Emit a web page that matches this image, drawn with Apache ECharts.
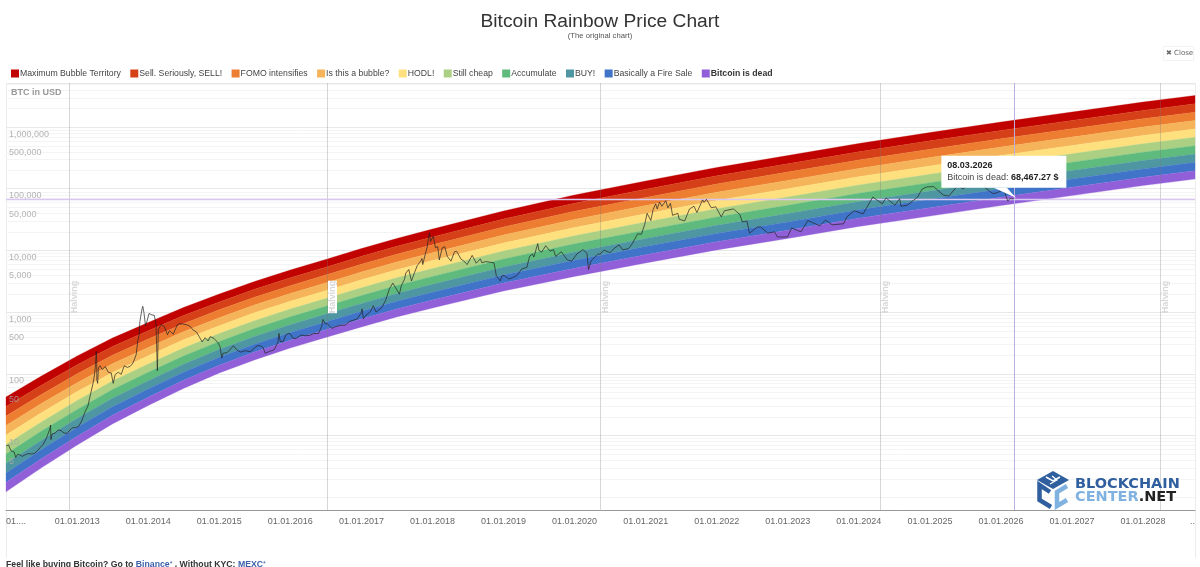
<!DOCTYPE html>
<html>
<head>
<meta charset="utf-8">
<title>Bitcoin Rainbow Price Chart</title>
<script src="https://cdn.jsdelivr.net/npm/echarts@6/dist/echarts.min.js"></script>
<style>
html, body { margin: 0; padding: 0; background: #fff; overflow: hidden; }
#chart { width: 1200px; height: 567px; }
</style>
</head>
<body>
<div id="chart"></div>
<script>
// band names and colours, top of the rainbow first
var bandNames = ['Maximum Bubble Territory', 'Sell. Seriously, SELL!', 'FOMO intensifies', 'Is this a bubble?', 'HODL!', 'Still cheap', 'Accumulate', 'BUY!', 'Basically a Fire Sale', 'Bitcoin is dead'];
var bandColors = ['#c00200', '#d64018', '#ed7d31', '#f6b45a', '#fee17e', '#abd084', '#5fbb7d', '#4f96a3', '#3f74c8', '#9160d8'];

// dates the band edges were read at
var edgeDates = ['2012-01-01', '2012-07-01', '2013-01-01', '2013-07-01', '2014-01-01', '2014-07-01', '2015-01-01', '2015-07-01', '2016-01-01', '2016-07-01', '2017-01-01', '2017-07-01', '2018-01-01', '2019-01-01', '2020-01-01', '2021-01-01', '2022-01-01', '2023-01-01', '2024-01-01', '2025-01-01', '2026-01-01', '2027-01-01', '2028-01-01', '2028-09-24'];
// one row per date, 11 edges in USD from the top of the red band to the bottom of the purple one
var bandEdges = [
    [42.1, 29.5, 20.7, 14.5, 10.2, 7.16, 5.02, 3.53, 2.47, 1.74, 1.22],
    [92.1, 65.4, 46.4, 32.9, 23.4, 16.6, 11.8, 8.35, 5.93, 4.21, 2.99],
    [195, 140, 100, 71.8, 51.5, 36.9, 26.5, 19.0, 13.6, 9.76, 7.0],
    [380, 276, 200, 145, 105, 76.4, 55.4, 40.2, 29.2, 21.2, 15.4],
    [678, 497, 365, 268, 196, 144, 106, 77.5, 56.9, 41.7, 30.6],
    [1188, 878, 649, 480, 355, 262, 194, 143, 106, 78.3, 57.9],
    [1963, 1462, 1088, 810, 603, 449, 335, 249, 186, 138, 103],
    [3133, 2338, 1745, 1302, 972, 725, 541, 404, 301, 225, 168],
    [4808, 3593, 2685, 2007, 1500, 1121, 838, 626, 468, 350, 261],
    [7129, 5328, 3982, 2976, 2224, 1662, 1242, 928, 694, 519, 388],
    [10740, 8015, 5981, 4463, 3331, 2486, 1855, 1384, 1033, 771, 575],
    [15600, 11640, 8687, 6483, 4838, 3610, 2694, 2011, 1500, 1120, 836],
    [22230, 16550, 12320, 9176, 6832, 5087, 3788, 2821, 2100, 1564, 1165],
    [43550, 32310, 23970, 17780, 13190, 9785, 7259, 5385, 3995, 2964, 2199],
    [79070, 58350, 43060, 31780, 23450, 17310, 12770, 9426, 6956, 5133, 3788],
    [133400, 98230, 72330, 53260, 39220, 28880, 21270, 15660, 11530, 8491, 6252],
    [220800, 162400, 119400, 87790, 64550, 47460, 34900, 25660, 18870, 13870, 10200],
    [345100, 253200, 185800, 136300, 100000, 73360, 53820, 39490, 28970, 21250, 15590],
    [540800, 396800, 291100, 213600, 156700, 115000, 84370, 61900, 45410, 33320, 24450],
    [814700, 596400, 436600, 319600, 234000, 171300, 125400, 91800, 67200, 49200, 36000],
    [1205000, 882100, 645800, 472700, 346100, 253300, 185500, 135800, 99400, 72770, 53270],
    [1750000, 1281000, 937800, 686500, 502600, 367900, 269300, 197200, 144300, 105700, 77350],
    [2541000, 1860000, 1362000, 997000, 729800, 534300, 391100, 286300, 209600, 153400, 112300],
    [3243000, 2374000, 1738000, 1272000, 931400, 681900, 499200, 365400, 267500, 195800, 143400]
];

// BTC price in USD
var btcPrice = [
    ['2012-01-03', 6.8], ['2012-01-06', 7.0], ['2012-01-10', 6.5], ['2012-01-15', 7.0], ['2012-01-20', 6.3], ['2012-01-28', 5.6], ['2012-02-05', 6.0], ['2012-02-12', 5.4], ['2012-02-20', 4.4], ['2012-02-28', 4.9], ['2012-03-10', 4.9], ['2012-03-25', 4.6], ['2012-04-10', 4.9], ['2012-04-25', 5.1], ['2012-05-10', 5.0], ['2012-05-25', 5.1], ['2012-06-10', 5.6], ['2012-06-25', 6.4], ['2012-07-10', 7.2], ['2012-07-25', 8.8], ['2012-08-05', 10.8], ['2012-08-15', 13.3], ['2012-08-17', 14.8], ['2012-08-19', 8.6], ['2012-08-25', 10.6], ['2012-09-10', 11.0], ['2012-09-25', 12.3], ['2012-10-10', 12.0], ['2012-10-25', 11.0], ['2012-11-10', 10.8], ['2012-11-25', 12.3], ['2012-12-10', 13.4], ['2012-12-25', 13.4],
    ['2013-01-10', 14.2], ['2013-01-25', 17.5], ['2013-02-10', 24], ['2013-02-25', 30], ['2013-03-10', 46], ['2013-03-25', 74], ['2013-04-01', 104], ['2013-04-05', 142], ['2013-04-09', 230], ['2013-04-11', 160], ['2013-04-12', 80], ['2013-04-16', 70], ['2013-04-20', 125], ['2013-04-28', 135], ['2013-05-10', 117], ['2013-05-25', 131], ['2013-06-10', 106], ['2013-06-25', 103], ['2013-07-05', 70], ['2013-07-15', 97], ['2013-07-31', 106], ['2013-08-15', 98], ['2013-08-31', 135], ['2013-09-15', 127], ['2013-09-30', 132], ['2013-10-15', 150], ['2013-10-31', 204], ['2013-11-08', 340], ['2013-11-15', 420], ['2013-11-19', 700], ['2013-11-21', 720], ['2013-11-30', 1125], ['2013-12-04', 1240], ['2013-12-10', 980], ['2013-12-18', 600], ['2013-12-25', 700],
    ['2014-01-05', 950], ['2014-01-20', 900], ['2014-02-01', 890], ['2014-02-10', 650], ['2014-02-17', 112], ['2014-02-22', 530], ['2014-03-10', 630], ['2014-03-25', 580], ['2014-04-10', 430], ['2014-04-20', 500], ['2014-05-10', 440], ['2014-05-30', 620], ['2014-06-10', 650], ['2014-06-30', 640], ['2014-07-20', 620], ['2014-08-05', 585], ['2014-08-20', 510], ['2014-09-05', 480], ['2014-09-20', 400], ['2014-10-05', 330], ['2014-10-20', 385], ['2014-11-05', 340], ['2014-11-15', 400], ['2014-12-05', 375], ['2014-12-25', 320],
    ['2015-01-05', 275], ['2015-01-14', 180], ['2015-01-20', 215], ['2015-02-10', 220], ['2015-03-01', 255], ['2015-03-15', 285], ['2015-04-01', 245], ['2015-04-20', 225], ['2015-05-15', 237], ['2015-06-10', 228], ['2015-06-30', 260], ['2015-07-15', 285], ['2015-07-31', 285], ['2015-08-15', 265], ['2015-08-25', 215], ['2015-09-15', 230], ['2015-10-10', 245], ['2015-10-30', 325], ['2015-11-04', 450], ['2015-11-10', 335], ['2015-11-25', 330], ['2015-12-10', 430], ['2015-12-25', 455],
    ['2016-01-05', 430], ['2016-01-15', 375], ['2016-02-01', 375], ['2016-02-25', 425], ['2016-03-15', 415], ['2016-04-10', 420], ['2016-05-01', 450], ['2016-05-25', 450], ['2016-06-10', 580], ['2016-06-17', 760], ['2016-06-28', 650], ['2016-07-09', 650], ['2016-08-02', 545], ['2016-08-20', 580], ['2016-09-15', 610], ['2016-10-10', 615], ['2016-10-30', 700], ['2016-11-20', 740], ['2016-12-10', 775], ['2016-12-30', 960],
    ['2017-01-04', 1130], ['2017-01-11', 780], ['2017-01-25', 900], ['2017-02-15', 1010], ['2017-03-03', 1270], ['2017-03-17', 1000], ['2017-03-25', 950], ['2017-04-15', 1180], ['2017-05-05', 1550], ['2017-05-25', 2400], ['2017-06-01', 2400], ['2017-06-11', 2950], ['2017-06-25', 2500], ['2017-07-15', 1950], ['2017-07-25', 2700], ['2017-08-10', 3400], ['2017-08-17', 4300], ['2017-09-01', 4900], ['2017-09-15', 3200], ['2017-10-01', 4400], ['2017-10-15', 5700], ['2017-11-01', 6700], ['2017-11-08', 7400], ['2017-11-12', 5900], ['2017-11-25', 8700], ['2017-12-05', 11500], ['2017-12-10', 15000], ['2017-12-17', 19300], ['2017-12-22', 14000], ['2017-12-30', 13500],
    ['2018-01-06', 17000], ['2018-01-16', 11000], ['2018-01-28', 11500], ['2018-02-05', 7000], ['2018-02-20', 11000], ['2018-03-05', 11500], ['2018-03-18', 8000], ['2018-04-06', 6700], ['2018-04-24', 9500], ['2018-05-05', 9700], ['2018-05-28', 7200], ['2018-06-10', 6800], ['2018-06-28', 5900], ['2018-07-24', 8300], ['2018-08-14', 6200], ['2018-09-04', 7300], ['2018-09-12', 6300], ['2018-10-01', 6600], ['2018-10-28', 6400], ['2018-11-13', 6300], ['2018-11-25', 3900], ['2018-12-15', 3200], ['2018-12-25', 3900],
    ['2019-01-05', 3900], ['2019-01-28', 3450], ['2019-02-15', 3600], ['2019-03-10', 3900], ['2019-04-05', 5000], ['2019-05-01', 5300], ['2019-05-15', 8000], ['2019-05-30', 8700], ['2019-06-06', 7800], ['2019-06-26', 12900], ['2019-07-02', 10000], ['2019-07-16', 9400], ['2019-08-06', 11900], ['2019-08-28', 9700], ['2019-09-15', 10300], ['2019-09-26', 8000], ['2019-10-25', 9500], ['2019-11-25', 7000], ['2019-12-17', 6700],
    ['2020-01-14', 8800], ['2020-02-13', 10300], ['2020-03-05', 9000], ['2020-03-13', 4900], ['2020-03-25', 6700], ['2020-04-29', 8700], ['2020-05-11', 8700], ['2020-06-01', 10100], ['2020-07-01', 9200], ['2020-07-27', 11000], ['2020-08-17', 12300], ['2020-09-05', 10200], ['2020-10-05', 10700], ['2020-10-25', 13000], ['2020-11-20', 18500], ['2020-12-10', 18300], ['2020-12-27', 26500],
    ['2021-01-08', 40000], ['2021-01-27', 30500], ['2021-02-08', 46000], ['2021-02-21', 57000], ['2021-03-01', 47000], ['2021-03-13', 61000], ['2021-03-25', 52000], ['2021-04-14', 64000], ['2021-04-25', 49000], ['2021-05-08', 58000], ['2021-05-19', 37000], ['2021-06-15', 40000], ['2021-06-22', 32000], ['2021-07-20', 30000], ['2021-08-14', 47000], ['2021-09-06', 52000], ['2021-09-21', 41000], ['2021-10-20', 66000], ['2021-10-28', 60000], ['2021-11-09', 67500], ['2021-12-04', 49000], ['2021-12-27', 51000],
    ['2022-01-24', 35000], ['2022-02-10', 44000], ['2022-03-28', 47000], ['2022-04-30', 38000], ['2022-05-12', 29000], ['2022-06-05', 30000], ['2022-06-18', 19000], ['2022-07-30', 24000], ['2022-08-15', 24000], ['2022-09-20', 19000], ['2022-10-25', 20000], ['2022-11-09', 16500], ['2022-12-30', 16500],
    ['2023-01-21', 23000], ['2023-03-10', 20000], ['2023-04-14', 30500], ['2023-06-15', 25000], ['2023-07-13', 31000], ['2023-08-17', 26000], ['2023-10-15', 27000], ['2023-11-01', 35000], ['2023-12-08', 44000],
    ['2024-01-23', 39000], ['2024-02-15', 52000], ['2024-03-13', 73000], ['2024-05-01', 57000], ['2024-05-20', 71000], ['2024-07-05', 54000], ['2024-07-29', 69000], ['2024-08-05', 52000], ['2024-09-06', 54000], ['2024-10-29', 73000], ['2024-11-22', 99000], ['2024-12-17', 107000],
    ['2025-01-20', 108000], ['2025-03-10', 79000], ['2025-04-08', 76000], ['2025-05-22', 111000], ['2025-06-22', 99000], ['2025-07-14', 122000], ['2025-08-14', 124000], ['2025-09-01', 108000], ['2025-10-06', 125000], ['2025-10-10', 105000], ['2025-11-21', 83000], ['2025-12-15', 87000],
    ['2026-01-14', 97000], ['2026-02-05', 63000], ['2026-02-15', 69000], ['2026-03-08', 68467.27]
];

var xMin = '2012-01-01';
var xMax = '2028-09-24';
var yMin = 0.62;
var yMax = 5170000;

var tickDates = ['2012-01-01', '2013-01-01', '2014-01-01', '2015-01-01', '2016-01-01', '2017-01-01', '2018-01-01', '2019-01-01', '2020-01-01', '2021-01-01', '2022-01-01', '2023-01-01', '2024-01-01', '2025-01-01', '2026-01-01', '2027-01-01', '2028-01-01', '2028-09-24'];
var tickLabels = ['01....', '01.01.2013', '01.01.2014', '01.01.2015', '01.01.2016', '01.01.2017', '01.01.2018', '01.01.2019', '01.01.2020', '01.01.2021', '01.01.2022', '01.01.2023', '01.01.2024', '01.01.2025', '01.01.2026', '01.01.2027', '01.01.2028', '..'];

var priceLabels = [1000000, 500000, 100000, 50000, 10000, 5000, 1000, 500, 100, 50, 10, 5];
var minorGrid = [1, 2, 3, 4, 5, 6, 7, 8, 9, 20, 30, 40, 50, 60, 70, 80, 90, 200, 300, 400, 500, 600, 700, 800, 900, 2000, 3000, 4000, 5000, 6000, 7000, 8000, 9000, 20000, 30000, 40000, 50000, 60000, 70000, 80000, 90000, 200000, 300000, 400000, 500000, 600000, 700000, 800000, 900000, 2000000, 3000000, 4000000, 5000000];

var halvingDates = ['2012-11-20', '2016-07-09', '2020-05-11', '2024-04-20', '2028-03-28'];
var halvingLabelPrice = 1760;

var tipDate = '2026-03-08';
var tipPrice = 68467.27;

function ts(s) {
    return +echarts.time.parse(s);
}

var chart = echarts.init(document.getElementById('chart'));

// one closed polygon per band, through the axes
function bandSeries(k) {
    return {
        name: bandNames[k],
        type: 'custom',
        coordinateSystem: 'cartesian2d',
        z: 3,
        silent: true,
        itemStyle: { color: bandColors[k] },
        data: [[ts(edgeDates[0]), bandEdges[0][k]]],
        renderItem: function (params, api) {
            var upper = [], lower = [];
            for (var i = 0; i < edgeDates.length; i++) {
                upper.push(api.coord([ts(edgeDates[i]), bandEdges[i][k]]));
                lower.unshift(api.coord([ts(edgeDates[i]), bandEdges[i][k + 1]]));
            }
            return {
                type: 'polygon',
                shape: { points: upper.concat(lower) },
                style: { fill: bandColors[k], stroke: bandColors[k], lineWidth: 0.3 }
            };
        }
    };
}

var series = [];
// the 2..9 lines of each decade, the axis only draws the powers of ten
series.push({
    name: 'grid',
    type: 'custom',
    z: 1,
    silent: true,
    data: minorGrid.map(function (v) { return [ts(xMin), v]; }),
    renderItem: function (params, api) {
        var y = Math.round(api.coord([ts(xMin), api.value(1)])[1]) + 0.5;
        return {
            type: 'line',
            shape: { x1: params.coordSys.x, y1: y, x2: params.coordSys.x + params.coordSys.width, y2: y },
            style: { stroke: '#f4f4f4', lineWidth: 1 }
        };
    }
});
for (var k = 0; k < bandNames.length; k++) {
    series.push(bandSeries(k));
}
// halving lines and their rotated labels
series.push({
    name: 'halving',
    type: 'custom',
    z: 4,
    silent: true,
    data: halvingDates.map(function (d) { return [ts(d), halvingLabelPrice]; }),
    renderItem: function (params, api) {
        var p = api.coord([api.value(0), api.value(1)]);
        var x = Math.round(p[0]) + 0.5;
        return {
            type: 'group',
            children: [{
                type: 'line',
                shape: { x1: x, y1: params.coordSys.y, x2: x, y2: params.coordSys.y + params.coordSys.height },
                style: { stroke: 'rgba(120,120,120,0.3)', lineWidth: 1 }
            }, {
                type: 'text',
                x: x + 5,
                y: p[1],
                rotation: Math.PI / 2,
                style: {
                    text: 'Halving',
                    fill: '#d8d8d8',
                    font: 'bold 9px "Liberation Sans"',
                    align: 'center',
                    verticalAlign: 'middle',
                    backgroundColor: params.dataIndex === 1 ? '#fff' : 'transparent'
                }
            }]
        };
    }
});
// crosshair of the hovered point
series.push({
    name: 'crosshair',
    type: 'custom',
    z: 4,
    silent: true,
    data: [[ts(tipDate), tipPrice]],
    renderItem: function (params, api) {
        var p = api.coord([api.value(0), api.value(1)]);
        var cs = params.coordSys;
        var x = Math.round(p[0]) + 0.5, y = Math.round(p[1]) + 0.5;
        return {
            type: 'group',
            children: [{
                type: 'line',
                shape: { x1: x, y1: cs.y, x2: x, y2: cs.y + cs.height },
                style: { stroke: '#b8b0e2', lineWidth: 1 }
            }, {
                type: 'line',
                shape: { x1: cs.x, y1: y, x2: cs.x + cs.width, y2: y },
                style: { stroke: '#d9c7f2', lineWidth: 1.4 }
            }]
        };
    }
});
series.push({
    name: 'BTC',
    type: 'line',
    z: 5,
    silent: true,
    showSymbol: false,
    lineStyle: { color: '#222', width: 0.7 },
    data: btcPrice.map(function (p) { return [ts(p[0]), p[1]]; })
});
// price labels sit inside the plot, just under their grid line
series.push({
    name: 'priceLabels',
    type: 'custom',
    z: 6,
    silent: true,
    data: priceLabels.map(function (v) { return [ts(xMin), v]; }),
    renderItem: function (params, api) {
        var y = api.coord([ts(xMin), api.value(1)])[1];
        return {
            type: 'text',
            x: 9,
            y: y + 7,
            style: {
                text: api.value(1).toLocaleString('en-US'),
                fill: 'rgba(168,168,168,0.85)',
                font: '9px "Liberation Sans"',
                align: 'left',
                verticalAlign: 'middle'
            }
        };
    }
});
// the open tooltip
series.push({
    name: 'tip',
    type: 'custom',
    z: 7,
    silent: true,
    data: [[ts(tipDate), tipPrice]],
    renderItem: function (params, api) {
        var p = api.coord([api.value(0), api.value(1)]);
        var left = p[0] - 72.5, top = p[1] - 43;
        return {
            type: 'group',
            children: [{
                type: 'rect',
                shape: { x: left, y: top, width: 125, height: 32 },
                style: { fill: '#fff' }
            }, {
                type: 'polygon',
                shape: { points: [[p[0] - 20, top + 32], [p[0] - 7, top + 32], [p[0] + 2, p[1] - 1]] },
                style: { fill: '#fff' }
            }, {
                type: 'text',
                x: left + 6,
                y: top + 10,
                style: { text: '08.03.2026', fill: '#222', font: 'bold 9px "Liberation Sans"', verticalAlign: 'middle' }
            }, {
                type: 'text',
                x: left + 6,
                y: top + 22,
                style: {
                    text: '{a|Bitcoin is dead: }{b|68,467.27 $}',
                    verticalAlign: 'middle',
                    rich: {
                        a: { fill: '#444', font: '9px "Liberation Sans"' },
                        b: { fill: '#222', font: 'bold 9px "Liberation Sans"' }
                    }
                }
            }]
        };
    }
});

var legendData = bandNames.map(function (n, i) {
    var item = { name: n };
    if (i === bandNames.length - 1) {
        item.textStyle = { fontWeight: 'bold', color: '#333' };
    }
    return item;
});

var tickValues = tickDates.map(ts);

var option = {
    animation: false,
    backgroundColor: '#fff',
    color: bandColors,
    textStyle: { fontFamily: '"Liberation Sans", sans-serif' },
    title: {
        text: 'Bitcoin Rainbow Price Chart',
        subtext: '(The original chart)',
        left: 'center',
        top: 7,
        itemGap: 1,
        textStyle: { fontSize: 19.2, fontWeight: 'normal', color: '#333', fontFamily: '"Liberation Sans"' },
        subtextStyle: { fontSize: 7.7, color: '#555', fontFamily: '"Liberation Sans"' }
    },
    legend: {
        left: 6,
        top: 64,
        icon: 'rect',
        itemWidth: 8,
        itemHeight: 8,
        itemGap: 9.4,
        selectedMode: false,
        textStyle: { fontSize: 8.7, color: '#444', padding: [0, 0, 0, -4], fontFamily: '"Liberation Sans"' },
        data: legendData
    },
    grid: { left: 6, right: 5, top: 83, bottom: 57, containLabel: false },
    xAxis: {
        type: 'value',
        min: ts(xMin),
        max: ts(xMax),
        axisLine: { onZero: false, lineStyle: { color: '#999', width: 1 } },
        axisTick: { show: false },
        splitLine: { show: false },
        axisLabel: {
            customValues: tickValues,
            color: '#666',
            fontSize: 9,
            margin: 7,
            hideOverlap: false,
            alignMinLabel: 'left',
            alignMaxLabel: 'right',
            formatter: function (v) {
                var i = tickValues.indexOf(+v);
                return i >= 0 ? tickLabels[i] : '';
            }
        }
    },
    yAxis: {
        type: 'log',
        logBase: 10,
        min: yMin,
        max: yMax,
        axisLine: { show: false },
        axisTick: { show: false },
        axisLabel: { show: false },
        splitLine: { show: true, lineStyle: { color: '#e8e8e8', width: 1 } }
    },
    graphic: [
        // frame of the chart box, it runs on below the axis
        { type: 'polyline', z: 0, silent: true, shape: { points: [[6.5, 558], [6.5, 83.5], [1195.5, 83.5], [1195.5, 558]] }, style: { stroke: '#ececec', lineWidth: 1, fill: 'none' } },
        { type: 'text', z: 10, x: 11, y: 93, style: { text: 'BTC in USD', fill: '#999', font: 'bold 9px "Liberation Sans"', verticalAlign: 'middle' } },
        // close button
        { type: 'rect', z: 10, shape: { x: 1163.5, y: 46.5, width: 30, height: 14 }, style: { fill: '#fff', stroke: '#f3f3f3', lineWidth: 1 } },
        { type: 'text', z: 11, x: 1166, y: 53.5, style: { text: '✖ Close', fill: '#666', font: '7px "DejaVu Sans"', verticalAlign: 'middle' } },
        // footer line, cut by the bottom of the window as in the picture
        {
            type: 'text', z: 10, x: 6, y: 564.5,
            style: {
                text: '{d|Feel like buying Bitcoin? Go to }{l|Binance}{s|*}{d| . Without KYC: }{l|MEXC}{s|*}',
                verticalAlign: 'middle',
                rich: {
                    d: { fill: '#333', font: 'bold 8.7px "Liberation Sans"' },
                    l: { fill: '#3a5fa8', font: 'bold 8.7px "Liberation Sans"' },
                    s: { fill: '#3a5fa8', font: '7px "Liberation Sans"' }
                }
            }
        },
        // blockchaincenter logo
        { type: 'polygon', z: 10, silent: true, shape: { points: [[1053, 471], [1069, 480], [1053, 489], [1037, 480]] }, style: { fill: '#2f5f9e' } },
        { type: 'polyline', z: 11, silent: true, shape: { points: [[1046, 477], [1053, 481], [1060, 477]] }, style: { stroke: '#fff', lineWidth: 1.5, fill: 'none' } },
        { type: 'polyline', z: 11, silent: true, shape: { points: [[1050, 484], [1057, 480], [1052, 476]] }, style: { stroke: '#fff', lineWidth: 1.2, fill: 'none' } },
        { type: 'polyline', z: 10, silent: true, shape: { points: [[1050, 492], [1039.5, 485], [1039.5, 500], [1051, 507]] }, style: { stroke: '#2f5f9e', lineWidth: 4.5, fill: 'none' } },
        { type: 'polyline', z: 10, silent: true, shape: { points: [[1067, 486], [1057, 492], [1057, 506], [1067, 500]] }, style: { stroke: '#7fb2e0', lineWidth: 4.5, fill: 'none' } },
        { type: 'text', z: 10, x: 1075, y: 484.5, style: { text: 'BLOCKCHAIN', fill: '#2f5f9e', font: 'bold 14.5px "DejaVu Sans"', verticalAlign: 'middle' } },
        {
            type: 'text', z: 10, x: 1075, y: 497.5,
            style: {
                text: '{c|CENTER}{n|.NET}',
                verticalAlign: 'middle',
                rich: {
                    c: { fill: '#7fb2e0', font: 'bold 14.5px "DejaVu Sans"' },
                    n: { fill: '#222', font: 'bold 14.5px "DejaVu Sans"' }
                }
            }
        }
    ],
    series: series
};

chart.setOption(option);
</script>
</body>
</html>
